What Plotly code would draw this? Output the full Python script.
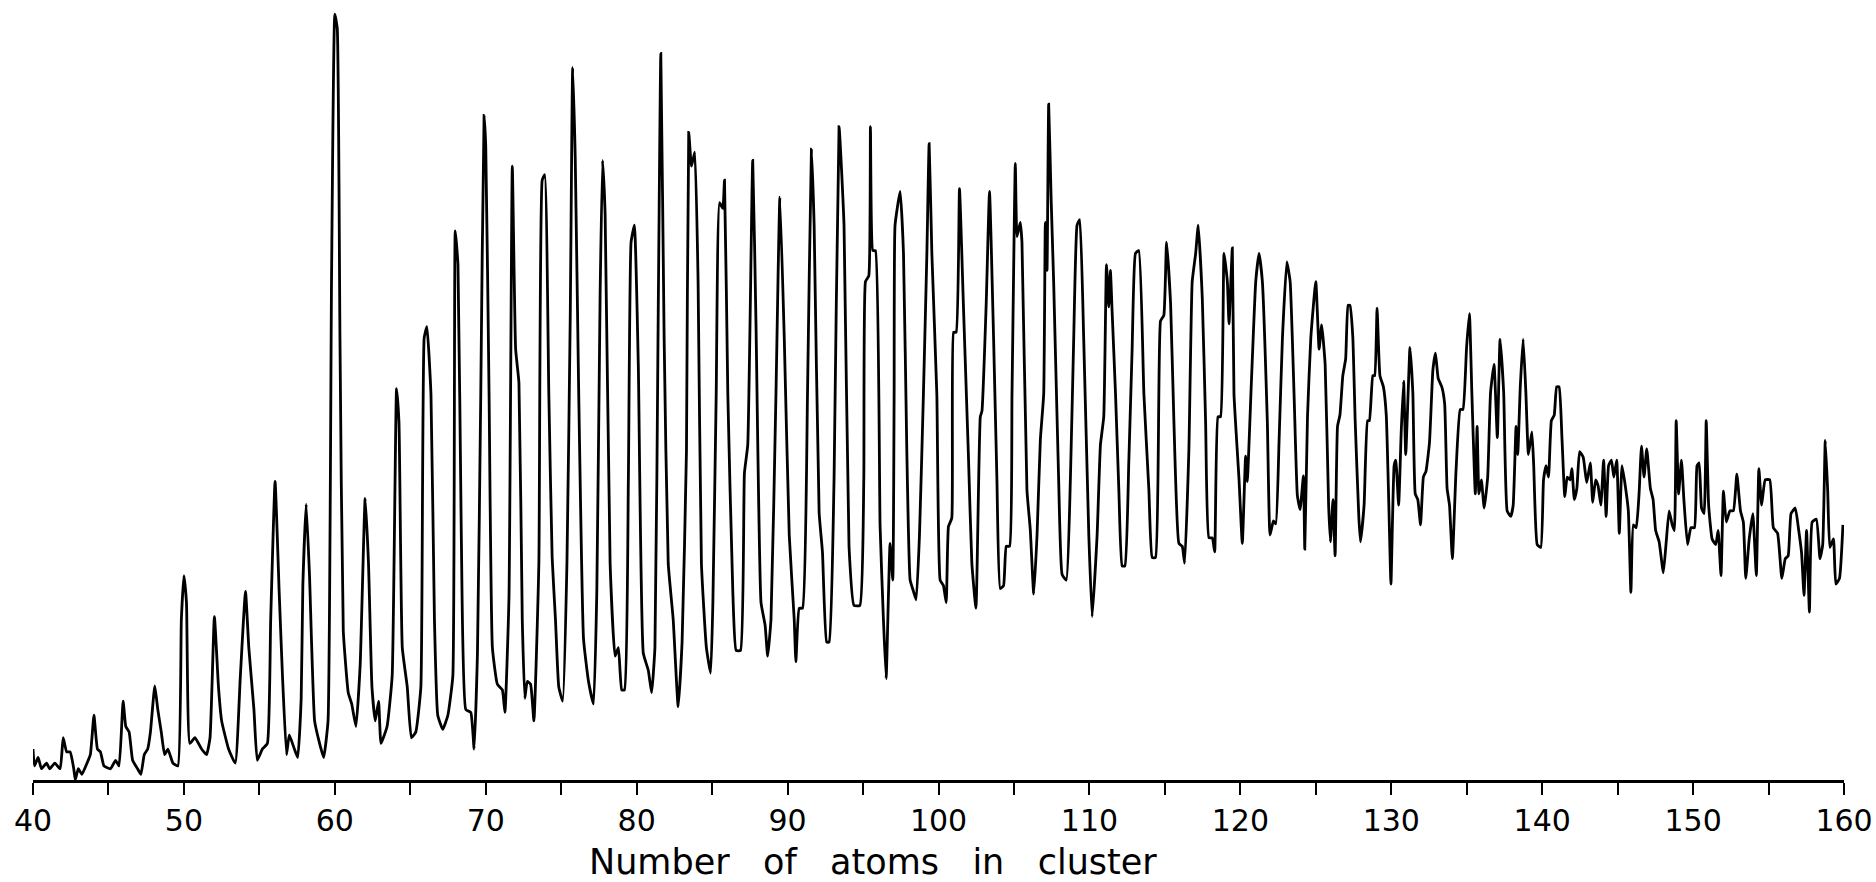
import plotly.graph_objects as go

# cluster size (number of atoms) and signal (arbitrary units)
atoms_a = [40.0, 40.1, 40.34, 40.56, 40.9, 41.1, 41.45, 41.8, 42.0, 42.23, 42.46, 42.7, 42.8, 43.0,
           43.24, 43.58, 43.8, 44.04, 44.27, 44.47, 44.7, 45.14, 45.47, 45.7, 45.97, 46.15, 46.37,
           46.6, 46.93, 47.15, 47.37, 47.6, 47.78, 48.07, 48.27, 48.5, 48.72, 48.94, 49.27, 49.6,
           49.83, 50.0, 50.17, 50.39, 50.73, 51.17, 51.5, 51.73, 52.02, 52.29, 52.5, 52.96, 53.4,
           53.74, 54.08, 54.3, 54.64, 54.86, 55.2, 55.53, 55.75, 56.04, 56.31, 56.53, 56.8, 56.98,
           57.32, 57.54, 57.77, 57.88, 58.1, 58.32, 58.66, 58.99, 59.26, 59.55, 59.78, 60.0, 60.16,
           60.34, 60.56, 60.89, 61.12, 61.4, 61.68, 62.01, 62.23, 62.46, 62.68, 62.9, 63.06, 63.46,
           63.8, 64.09, 64.25, 64.47, 64.8, 65.07, 65.36, 65.7, 65.92, 66.1, 66.37, 66.6, 66.82,
           67.15, 67.49, 67.82, 67.98, 68.16, 68.38]
signal_a = [55, 25, 40, 20, 30, 20, 30, 20, 75, 50, 50, 20, 0, 20,
            10, 30, 45, 115, 55, 50, 25, 20, 35, 25, 140, 95, 85,
            35, 20, 10, 45, 55, 85, 167, 125, 85, 45, 55, 30, 25,
            285, 363, 315, 65, 75, 55, 45, 75, 290, 165, 105, 55, 30,
            185, 335, 235, 125, 35, 55, 65, 285, 530, 335, 185, 45, 80,
            55, 40, 145, 345, 490, 365, 105, 65, 40, 105, 885, 1360, 1335,
            785, 265, 155, 135, 95, 205, 500, 385, 165, 105, 140, 65, 95,
            185, 695, 635, 235, 165, 75, 85, 165, 785, 805, 685, 285, 115,
            90, 115, 185, 975, 915, 435]

atoms_b = [68.68, 69.01, 69.23, 69.45, 69.67, 69.89, 70.0, 70.22, 70.44, 70.77, 71.1, 71.27, 71.54,
           71.76, 71.98, 72.2, 72.42, 72.59, 72.75, 72.97, 73.19, 73.52, 73.74, 73.91, 74.18, 74.4,
           74.62, 74.84, 75.1, 75.38, 75.6, 75.76, 75.93, 76.15, 76.48, 76.81, 77.14, 77.36, 77.58,
           77.74, 77.91, 78.24, 78.57, 78.79, 79.01, 79.19, 79.45, 79.63, 79.85, 80.11, 80.44, 80.77,
           80.99, 81.21, 81.43, 81.6, 81.82, 82.09, 82.42, 82.75, 83.01, 83.3, 83.45, 83.63, 83.85,
           84.07, 84.29, 84.62, 84.9, 85.05, 85.27, 85.49, 85.71, 85.82, 86.04, 86.37, 86.59, 86.88,
           87.14, 87.36, 87.69, 87.91, 88.24, 88.51, 88.68, 88.9, 89.23, 89.49, 89.78, 90.11, 90.44,
           90.55, 90.77, 90.99, 91.32, 91.58, 91.76, 92.09, 92.31, 92.59, 92.75, 93.08, 93.41, 93.74,
           94.07, 94.4, 94.79, 95.05, 95.16, 95.38, 95.49, 95.65, 95.82]
signal_b = [125, 120, 55, 225, 685, 1180, 1125, 685, 235, 170, 160, 120, 325,
            1090, 765, 705, 285, 145, 175, 170, 105, 385, 1065, 1075, 685, 395,
            285, 165, 140, 385, 825, 1265, 1105, 705, 250, 175, 135, 335, 865,
            1100, 1005, 385, 220, 235, 160, 160, 535, 955, 985, 735, 225, 195,
            155, 235, 835, 1290, 785, 385, 285, 130, 245, 585, 1150, 1090, 1115,
            885, 385, 235, 190, 315, 685, 1025, 1015, 1065, 685, 335, 230, 230,
            545, 595, 1100, 805, 315, 275, 220, 285, 685, 1035, 785, 435, 285,
            210, 305, 305, 685, 1120, 985, 475, 405, 245, 245, 535, 1160, 985,
            415, 310, 310, 535, 885, 895, 1160, 940, 940]

atoms_c = [96.13, 96.35, 96.53, 96.68, 96.79, 96.97, 97.06, 97.12, 97.46, 97.68, 97.9, 98.12, 98.34,
           98.52, 98.74, 99.0, 99.23, 99.38, 99.56, 99.89, 100.11, 100.33, 100.51, 100.66, 100.88,
           101.0, 101.17, 101.39, 101.66, 101.99, 102.21, 102.48, 102.77, 102.88, 103.16, 103.38,
           103.65, 103.87, 104.09, 104.31, 104.49, 104.71, 104.87, 105.09, 105.2, 105.42, 105.53,
           105.86, 106.08, 106.31, 106.53, 106.75, 106.97, 107.08, 107.19, 107.3, 107.46, 107.63,
           107.96, 108.19, 108.47, 108.74, 108.96, 109.18, 109.36, 109.62, 109.96, 110.18, 110.51,
           110.73, 110.95, 111.13, 111.28, 111.39, 111.5, 111.73, 111.95, 112.17, 112.35, 112.61,
           112.83, 113.05, 113.27, 113.61, 113.94, 114.16, 114.38, 114.71, 114.93, 115.11, 115.38,
           115.6, 115.93, 116.15, 116.31, 116.59, 116.81, 117.04, 117.21, 117.48, 117.7, 117.92,
           118.14, 118.3, 118.52, 118.69, 118.92, 119.14, 119.25, 119.47, 119.58, 119.91, 120.13,
           120.35, 120.46, 120.73, 121.02, 121.24, 121.46, 121.79, 121.97, 122.19, 122.35, 122.57,
           122.79, 123.08, 123.3, 123.56, 123.78, 123.96, 124.18, 124.27, 124.45, 124.67, 125.0,
           125.22]
signal_c = [450, 285, 180, 325, 420, 355, 685, 985, 1045, 935, 585, 355, 335,
            320, 435, 685, 935, 1130, 935, 685, 355, 345, 315, 450, 465,
            795, 795, 1050, 835, 570, 385, 305, 645, 655, 845, 1045,
            785, 535, 340, 345, 415, 415, 685, 1095, 965, 990, 955,
            515, 445, 330, 435, 605, 685, 990, 905, 1200, 1035, 885,
            535, 365, 355, 535, 785, 985, 995, 785, 435, 290, 435,
            595, 645, 915, 840, 905, 835, 685, 515, 380, 380, 565,
            765, 935, 940, 685, 515, 395, 395, 815, 825, 955, 845,
            635, 420, 415, 385, 585, 885, 935, 985, 855, 635, 430,
            430, 405, 645, 645, 935, 885, 810, 945, 685, 535, 420,
            575, 530, 705, 885, 935, 885, 635, 435, 460, 455, 605,
            785, 920, 885, 685, 505, 480, 540, 410, 645, 785, 885,
            765]

atoms_d = [125.39, 125.62, 125.85, 125.97, 126.14, 126.28, 126.44, 126.6, 126.79, 126.98, 127.14,
           127.26, 127.45, 127.61, 127.85, 127.96, 128.2, 128.43, 128.55, 128.78, 128.9, 129.06,
           129.25, 129.48, 129.67, 129.84, 129.98, 130.19, 130.3, 130.49, 130.66, 130.82, 130.96,
           131.12, 131.24, 131.43, 131.59, 131.76, 131.94, 132.13, 132.3, 132.53, 132.76, 132.93,
           133.11, 133.35, 133.54, 133.7, 133.86, 134.05, 134.29, 134.57, 134.75, 134.99, 135.18,
           135.34, 135.57, 135.69, 135.81, 135.97, 136.16, 136.39, 136.58, 136.81, 137.03, 137.21,
           137.45, 137.68, 137.92, 138.08, 138.27, 138.38, 138.55, 138.74, 138.92, 139.09, 139.32,
           139.44, 139.67, 139.91, 140.09, 140.26, 140.42, 140.61, 140.8, 140.96, 141.12, 141.31,
           141.5, 141.66, 141.85, 141.97, 142.13, 142.3, 142.48, 142.72, 142.95, 143.19, 143.35,
           143.54, 143.7, 143.89, 144.07, 144.24, 144.4, 144.59, 144.75, 144.94, 145.11, 145.29,
           145.53, 145.71, 145.88, 146.04, 146.23, 146.42, 146.58, 146.75, 146.93, 147.17, 147.35,
           147.52, 147.75, 148.03, 148.22, 148.41, 148.62, 148.76, 148.88, 149.04, 149.23, 149.39,
           149.63, 149.86, 150.09, 150.26, 150.4, 150.56, 150.73, 150.87, 151.03, 151.26, 151.5,
           151.66, 151.85, 152.01, 152.2, 152.44, 152.67, 152.9, 153.14, 153.33, 153.49, 153.72,
           153.96, 154.19, 154.36, 154.54, 154.78, 155.08, 155.32, 155.6, 155.88, 156.11, 156.3,
           156.49, 156.77, 157.0, 157.19, 157.35, 157.52, 157.71, 157.89, 158.17, 158.41, 158.59,
           158.76, 158.92, 159.06, 159.3, 159.46, 159.7, 159.93]
signal_d = [808, 738, 488, 423, 498, 398, 628, 648, 718, 748, 843,
            843, 788, 638, 468, 423, 488, 638, 638, 718, 718, 838,
            718, 698, 648, 488, 348, 558, 568, 488, 618, 708, 578,
            688, 768, 688, 508, 498, 453, 538, 548, 598, 728, 758,
            713, 698, 668, 518, 488, 393, 548, 658, 658, 768, 828,
            688, 508, 628, 508, 533, 483, 538, 688, 738, 608, 783,
            688, 478, 468, 488, 628, 578, 698, 783, 688, 578, 618,
            558, 418, 413, 533, 558, 538, 638, 648, 698, 698, 608,
            503, 538, 533, 553, 498, 518, 583, 573, 528, 563, 493,
            533, 523, 488, 568, 468, 558, 568, 538, 568, 438, 558,
            518, 478, 333, 453, 448, 508, 593, 538, 588, 518, 498,
            443, 423, 368, 423, 478, 453, 443, 638, 508, 568, 498,
            418, 448, 448, 558, 563, 483, 473, 638, 488, 428, 418,
            443, 363, 513, 458, 478, 478, 543, 478, 458, 358, 428,
            473, 363, 553, 488, 533, 533, 448, 438, 358, 393, 398,
            473, 483, 443, 403, 328, 443, 298, 458, 463, 393, 418,
            603, 513, 413, 428, 348, 358, 453]

atoms = atoms_a + atoms_b + atoms_c + atoms_d
signal = signal_a + signal_b + signal_c + signal_d

fig = go.Figure()
fig.add_trace(go.Scatter(x=atoms, y=signal, mode='lines',
                         line=dict(color='black', width=2.8, shape='spline', smoothing=0.4),
                         hoverinfo='skip'))

# axis title sits left of centre in the original, with wide word gaps
gap = '\u00a0' * 3
fig.add_annotation(text=gap.join(['Number', 'of', 'atoms', 'in', 'cluster']),
                   xref='paper', yref='paper', x=0.4638, y=-0.105,
                   xanchor='center', yanchor='middle', showarrow=False,
                   font=dict(size=35, color='black'))

fig.update_layout(
    width=1876, height=882,
    margin=dict(l=33, r=32, t=0, b=102),
    paper_bgcolor='white', plot_bgcolor='white',
    showlegend=False,
    font=dict(family='DejaVu Sans', color='black'),
    xaxis=dict(range=[40, 160], tick0=40, dtick=10, ticks='outside', ticklen=12, tickwidth=2,
               tickcolor='black', showline=True, linewidth=3, linecolor='black',
               showgrid=False, zeroline=False, tickfont=dict(size=30),
               minor=dict(dtick=5, ticks='outside', ticklen=12, tickwidth=2, tickcolor='black')),
    yaxis=dict(range=[0, 1385], visible=False),
)

# drop the default page margin so the figure sits at the window's corner
fig.write_html("out.html", config={'displayModeBar': False},
               post_script="document.body.style.margin='0';")
